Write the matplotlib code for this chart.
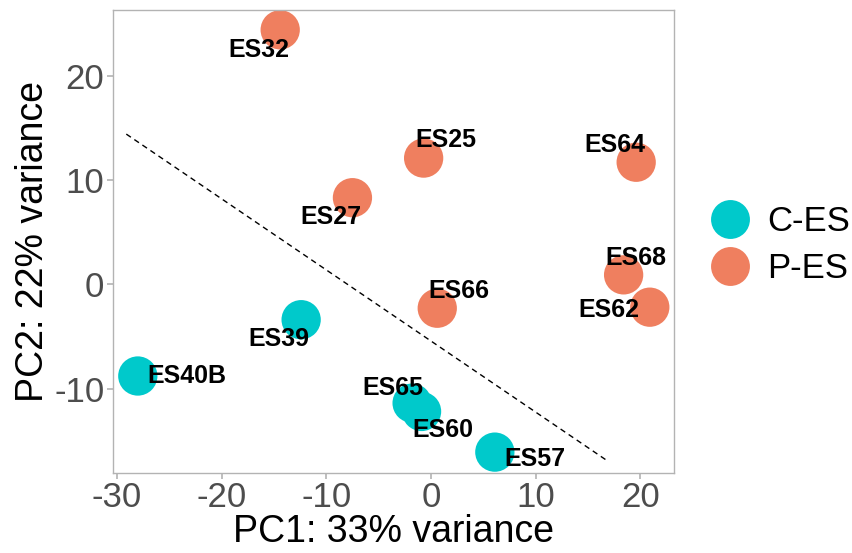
import matplotlib
matplotlib.use("Agg")
import matplotlib.pyplot as plt
from matplotlib.lines import Line2D

plt.rcParams["font.family"] = ["Liberation Sans", "DejaVu Sans"]
plt.rcParams["axes.unicode_minus"] = False

# ── Data ───────────────────────────────────────────────────
samples = ["ES32", "ES25", "ES27", "ES64", "ES68", "ES62", "ES66",
           "ES39", "ES40B", "ES65", "ES60", "ES57"]
pc1 = [-14.4, -0.7, -7.5, 19.6, 18.4, 20.9, 0.6,
       -12.4, -28.0, -1.8, -0.9, 6.1]
pc2 = [24.4, 12.1, 8.3, 11.7, 0.9, -2.2, -2.3,
       -3.4, -8.8, -11.4, -12.2, -16.1]
group = ["P-ES", "P-ES", "P-ES", "P-ES", "P-ES", "P-ES", "P-ES",
         "C-ES", "C-ES", "C-ES", "C-ES", "C-ES"]

# dashed separating line (end points in data units)
sep_x = [-29.1, 16.8]
sep_y = [14.4, -16.9]

groups = ["C-ES", "P-ES"]
colors = {"C-ES": "#00C9CB", "P-ES": "#EF7F5F"}

# label offsets from the point, in pixels (ggrepel-like placement)
label_off = {
    "ES32": (-21, -20), "ES25": (22, 18), "ES27": (-22, -19),
    "ES64": (-21, 17), "ES68": (12, 17), "ES62": (-41, -3),
    "ES66": (22, 17), "ES39": (-22, -19), "ES40B": (49, 0),
    "ES65": (-19, 15), "ES60": (21, -19), "ES57": (40, -7),
}

fig = plt.figure(figsize=(8.53, 5.53), dpi=100)
ax = fig.add_axes([0.1321, 0.1447, 0.790 - 0.1321, 0.9819 - 0.1447])

ax.plot(sep_x, sep_y, color="black", linewidth=1.0,
        linestyle=(0, (4, 3)), zorder=1)

for g in groups:
    xs = [x for x, gg in zip(pc1, group) if gg == g]
    ys = [y for y, gg in zip(pc2, group) if gg == g]
    ax.scatter(xs, ys, s=800, color=colors[g], edgecolors="none", zorder=2)

for name, x, y in zip(samples, pc1, pc2):
    dx, dy = label_off[name]
    ax.annotate(name, (x, y), xytext=(dx, dy), textcoords="offset pixels",
                ha="center", va="center", fontsize=18, fontweight="bold",
                color="black", zorder=3)

ax.set_xlim(-30.4, 23.2)
ax.set_ylim(-18.1, 26.3)
ax.set_xticks([-30, -20, -10, 0, 10, 20])
ax.set_yticks([-10, 0, 10, 20])
ax.set_xlabel("PC1: 33% variance", fontsize=27, labelpad=0)
ax.set_ylabel("PC2: 22% variance", fontsize=27, labelpad=2)

for sp in ax.spines.values():
    sp.set_color("#B3B3B3")
    sp.set_linewidth(1.0)
ax.tick_params(axis="both", colors="#B3B3B3", labelcolor="#4D4D4D",
               labelsize=25, length=4, width=1.2, pad=2)

handles = [Line2D([], [], linestyle="none", marker="o", markersize=28,
                  markerfacecolor=colors[g], markeredgecolor="none")
           for g in groups]
fig.legend(handles, groups, loc="center left",
           bbox_to_anchor=(0.811, 0.557), frameon=False, fontsize=25,
           handlelength=1.2, handletextpad=0.46, labelspacing=0.42,
           borderpad=0)

fig.savefig("out.png", dpi=100)
